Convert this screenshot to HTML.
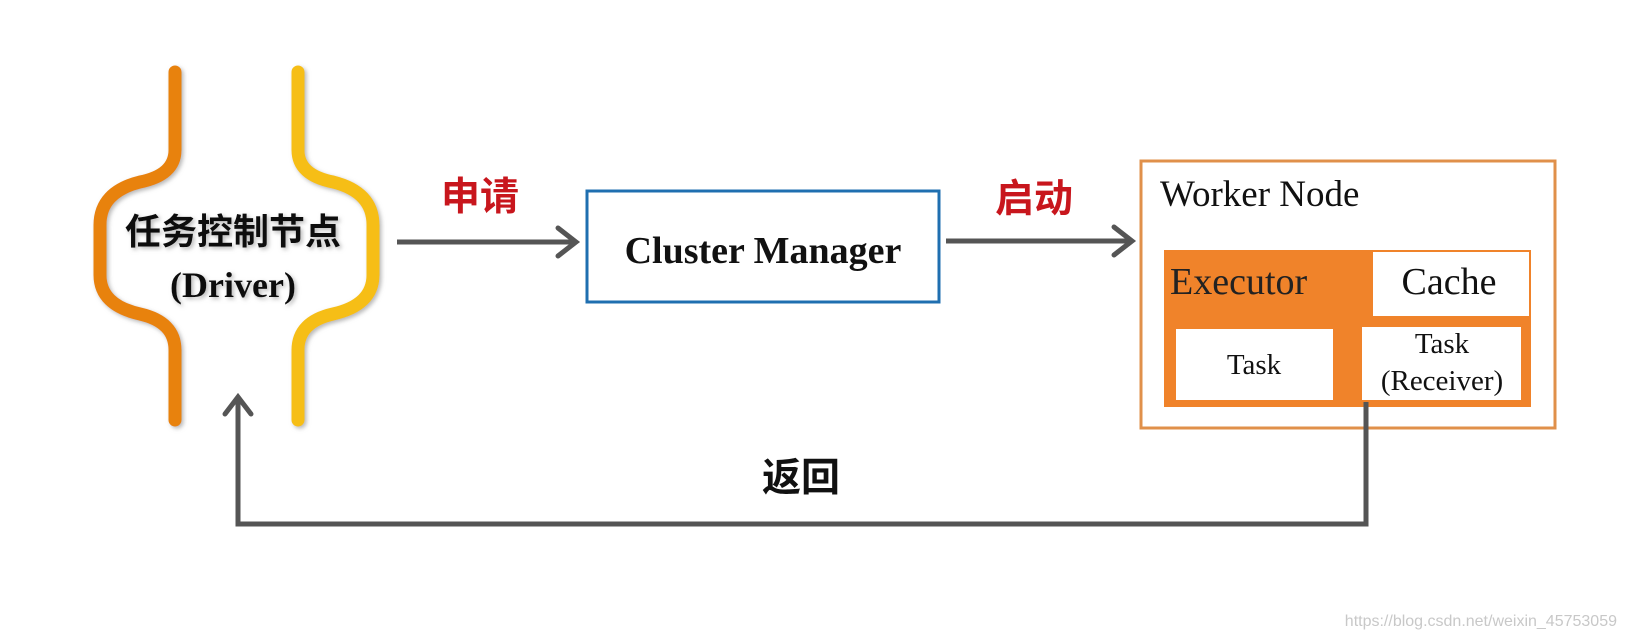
<!DOCTYPE html>
<html><head><meta charset="utf-8"><style>
body{margin:0;background:#fff;}
svg{display:block}
</style></head><body>
<svg width="1626" height="638" viewBox="0 0 1626 638" xmlns="http://www.w3.org/2000/svg">
<defs>
<filter id="sh" x="-20%" y="-20%" width="140%" height="140%"><feDropShadow dx="2" dy="2" stdDeviation="2" flood-color="#999" flood-opacity="0.7"/></filter>
</defs>
<rect width="1626" height="638" fill="#fff"/>
<!-- braces -->
<path d="M175,72 L175,150 Q175,175 140,182 Q100,192 100,225 L100,275 Q100,305 140,314 Q175,322 175,350 L175,420" fill="none" stroke="#e8820c" stroke-width="13" stroke-linecap="round" filter="url(#sh)"/>
<path d="M298,72 L298,150 Q298,175 333,182 Q373,192 373,225 L373,275 Q373,305 333,314 Q298,322 298,350 L298,420" fill="none" stroke="#f6be12" stroke-width="13" stroke-linecap="round" filter="url(#sh)"/>
<g filter="url(#sh)">
<text x="233" y="244" text-anchor="middle" font-family="'Noto Sans CJK SC',sans-serif" font-weight="bold" font-size="36" fill="#111">任务控制节点</text>
<text x="233" y="297" text-anchor="middle" font-family="'Liberation Serif',serif" font-weight="bold" font-size="36" fill="#111">(Driver)</text>
</g>
<!-- arrow 申请 -->
<line x1="397" y1="242" x2="574" y2="242" stroke="#555" stroke-width="5"/>
<path d="M558,228 L576,242 L558,256" fill="none" stroke="#555" stroke-width="5" stroke-linecap="round"/>
<text x="480" y="210" text-anchor="middle" font-family="'Noto Sans CJK SC',sans-serif" font-weight="bold" font-size="39" fill="#c8161d">申请</text>
<!-- Cluster Manager -->
<rect x="587" y="191" width="352" height="111" fill="#fff" stroke="#1f6fb0" stroke-width="3"/>
<text x="763" y="263" text-anchor="middle" font-family="'Liberation Serif',serif" font-weight="bold" font-size="38" fill="#111">Cluster Manager</text>
<!-- arrow 启动 -->
<line x1="946" y1="241" x2="1130" y2="241" stroke="#555" stroke-width="5"/>
<path d="M1114,227 L1132,241 L1114,255" fill="none" stroke="#555" stroke-width="5" stroke-linecap="round"/>
<text x="1034" y="212" text-anchor="middle" font-family="'Noto Sans CJK SC',sans-serif" font-weight="bold" font-size="39" fill="#c8161d">启动</text>
<!-- Worker node -->
<rect x="1141" y="161" width="414" height="267" fill="#fff" stroke="#e0904a" stroke-width="3"/>
<text x="1160" y="206" font-family="'Liberation Serif',serif" font-size="37" fill="#111">Worker Node</text>
<rect x="1164" y="250" width="367" height="157" fill="#f0832a"/>
<rect x="1373" y="252" width="156" height="64" fill="#fff"/>
<text x="1170" y="294" font-family="'Liberation Serif',serif" font-size="38" fill="#222">Executor</text>
<text x="1449" y="294" text-anchor="middle" font-family="'Liberation Serif',serif" font-size="38" fill="#111">Cache</text>
<rect x="1176" y="329" width="157" height="71" fill="#fff"/>
<text x="1254" y="374" text-anchor="middle" font-family="'Liberation Serif',serif" font-size="29" fill="#111">Task</text>
<rect x="1362" y="327" width="159" height="73" fill="#fff"/>
<text x="1442" y="353" text-anchor="middle" font-family="'Liberation Serif',serif" font-size="29" fill="#111">Task</text>
<text x="1442" y="390" text-anchor="middle" font-family="'Liberation Serif',serif" font-size="29" fill="#111">(Receiver)</text>
<!-- return -->
<path d="M1366,402 L1366,524 L238,524 L238,398" fill="none" stroke="#555" stroke-width="5"/>
<path d="M225,414 L238,397 L251,414" fill="none" stroke="#555" stroke-width="5" stroke-linecap="round"/>
<text x="801" y="491" text-anchor="middle" font-family="'Noto Sans CJK SC',sans-serif" font-weight="bold" font-size="39" fill="#111">返回</text>
<text x="1617" y="626" text-anchor="end" font-family="'Liberation Sans',sans-serif" font-size="16" fill="#c8c8c8">https://blog.csdn.net/weixin_45753059</text>
</svg>
</body></html>
